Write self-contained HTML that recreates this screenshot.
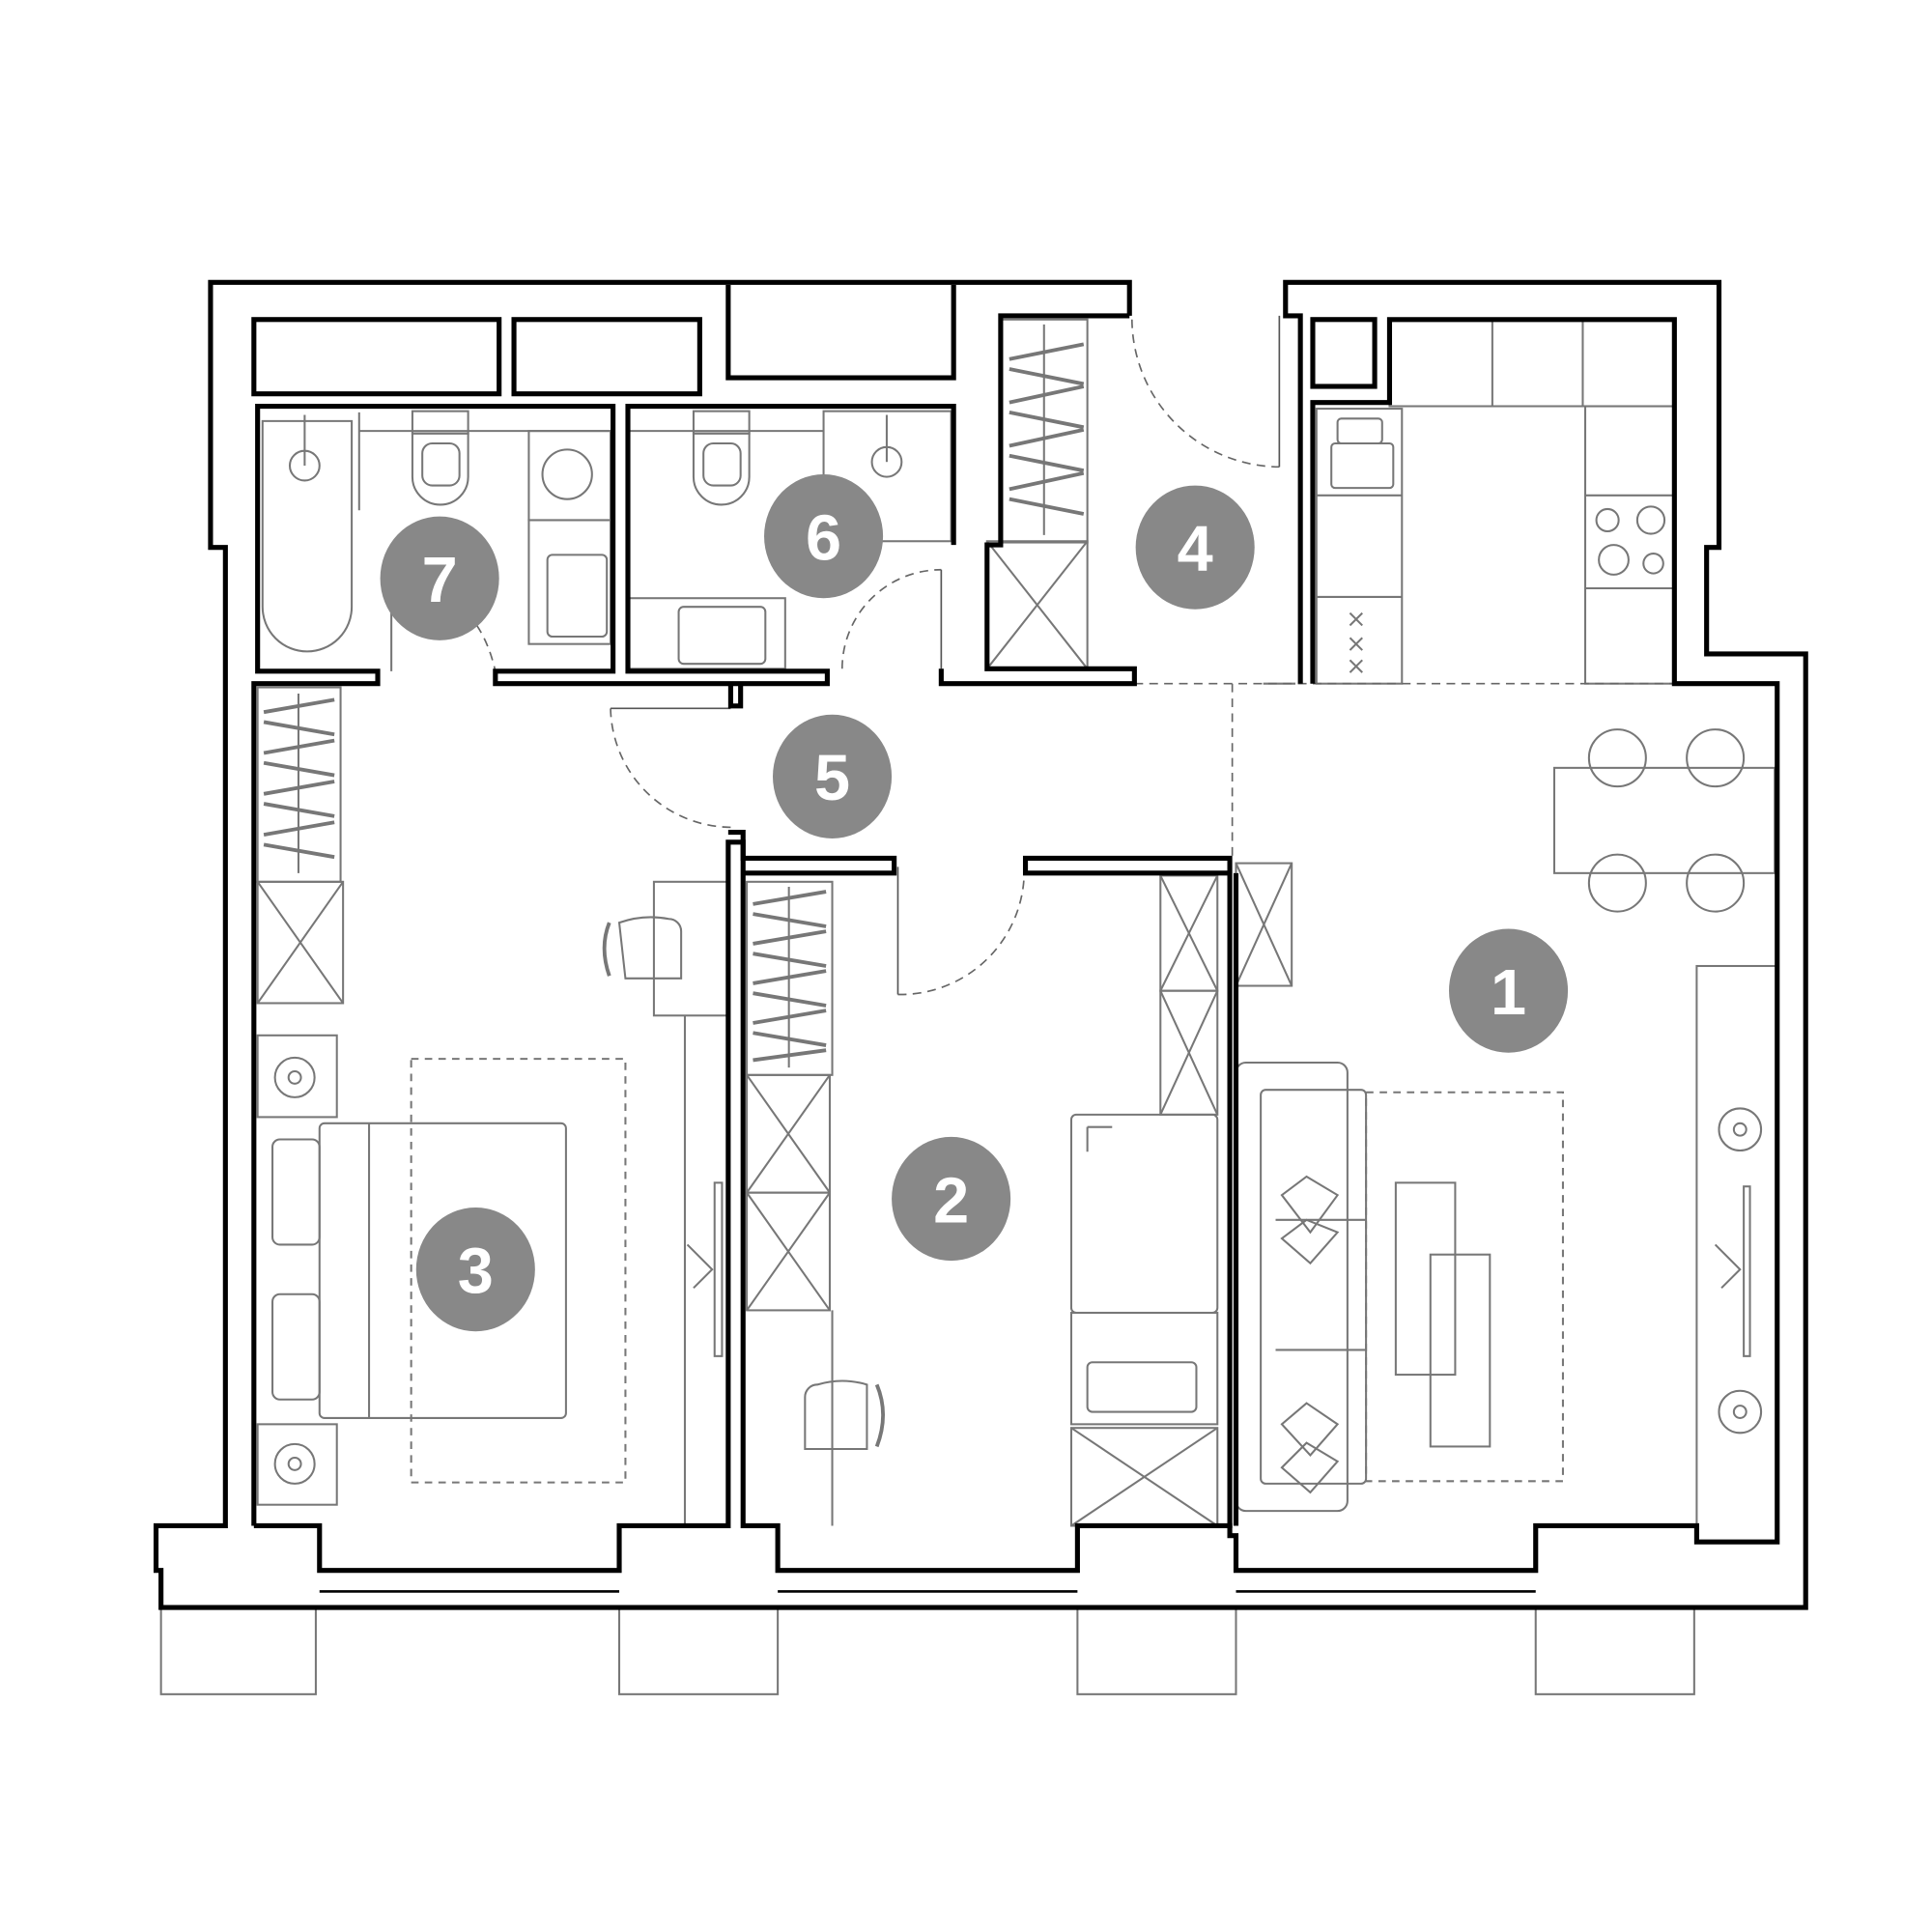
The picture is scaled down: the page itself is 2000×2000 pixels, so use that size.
<!DOCTYPE html>
<html><head><meta charset="utf-8"><style>html,body{margin:0;padding:0;background:#fff}svg{display:block}</style></head>
<body>
<svg width="2000" height="2000" viewBox="0 0 1560 1560" xmlns="http://www.w3.org/2000/svg">
<rect width="1560" height="1560" fill="#fff"/>
<!-- furniture (grey) -->
<g fill="none" stroke="#777" stroke-width="1.6">
 <!-- bath 7 -->
 <path d="M212,340 H284 V490 A36,36 0 0 1 212,490 Z"/>
 <circle cx="246" cy="376" r="12"/><line x1="246" y1="335" x2="246" y2="376"/>
 <line x1="290" y1="333" x2="290" y2="412"/>
 <line x1="290" y1="348" x2="493" y2="348"/>
 <rect x="333" y="332" width="45" height="18"/>
 <path d="M333,350 H378 V385 A22,22 0 0 1 333,385 Z"/><rect x="341" y="358" width="30" height="34" rx="8"/>
 <rect x="427" y="348" width="66" height="72"/><circle cx="458" cy="383" r="20"/>
 <rect x="427" y="420" width="66" height="100"/><rect x="442" y="448" width="48" height="66" rx="4"/>
 <line x1="316" y1="490" x2="316" y2="542"/>
 <!-- bath 6 -->
 <line x1="507" y1="348" x2="665" y2="348"/>
 <rect x="560" y="332" width="45" height="18"/>
 <path d="M560,350 H605 V385 A22,22 0 0 1 560,385 Z"/><rect x="568" y="358" width="30" height="34" rx="8"/>
 <rect x="665" y="332" width="103" height="105"/><circle cx="716" cy="373" r="12"/><line x1="716" y1="335" x2="716" y2="373"/>
 <rect x="508" y="483" width="126" height="57"/><rect x="548" y="490" width="70" height="46" rx="4"/>
 <!-- closet 4 -->
 <rect x="808" y="258" width="70" height="180"/><line x1="843" y1="262" x2="843" y2="432"/>
 <path d="M815,290 L875,278 M815,298 L875,310 M815,325 L875,312 M815,333 L875,345 M815,360 L875,347 M815,368 L875,380 M815,395 L875,382 M815,403 L875,415" stroke-width="3"/>
 <rect x="797" y="437" width="81" height="103"/><path d="M797,437 L878,540 M878,437 L797,540"/>
 <!-- wardrobe room 3 -->
 <rect x="208" y="555" width="67" height="157"/><line x1="241" y1="560" x2="241" y2="705"/>
 <path d="M213,575 L270,565 M213,583 L270,593 M213,608 L270,598 M213,616 L270,626 M213,641 L270,631 M213,649 L270,659 M213,674 L270,664 M213,682 L270,692" stroke-width="3"/>
 <rect x="208" y="712" width="69" height="98"/><path d="M208,712 L277,810 M277,712 L208,810"/>
 <rect x="208" y="836" width="64" height="66"/><circle cx="238" cy="870" r="16"/><circle cx="238" cy="870" r="5"/>
 <rect x="208" y="1150" width="64" height="65"/><circle cx="238" cy="1182" r="16"/><circle cx="238" cy="1182" r="5"/>
 <rect x="258" y="907" width="199" height="238" rx="4"/><line x1="298" y1="907" x2="298" y2="1145"/>
 <rect x="220" y="920" width="38" height="85" rx="6"/><rect x="220" y="1045" width="38" height="85" rx="6"/>
 <rect x="332" y="855" width="173" height="342" stroke-dasharray="6,5"/>
 <rect x="528" y="712" width="60" height="108"/>
 <path d="M500,745 Q520,738 540,742 A10,10 0 0 1 550,752 V790 H505 Z"/><path d="M492,745 Q484,765 492,788" stroke-width="3"/>
 <line x1="553" y1="820" x2="553" y2="1232"/><rect x="577" y="955" width="6" height="140"/><path d="M555,1005 L575,1025 L560,1040"/>
 <!-- room 2 -->
 <rect x="603" y="712" width="69" height="156"/><line x1="637" y1="716" x2="637" y2="862"/>
 <path d="M608,730 L667,720 M608,738 L667,748 M608,762 L667,752 M608,770 L667,780 M608,794 L667,784 M608,802 L667,812 M608,826 L667,816 M608,834 L667,844 M608,856 L667,848" stroke-width="3"/>
 <rect x="603" y="868" width="67" height="95"/><path d="M603,868 L670,963 M670,868 L603,963"/>
 <rect x="603" y="963" width="67" height="95"/><path d="M603,963 L670,1058 M670,963 L603,1058"/>
 <line x1="672" y1="1058" x2="672" y2="1232"/>
 <path d="M700,1118 Q680,1112 660,1118 A10,10 0 0 0 650,1128 V1170 H700 Z"/><path d="M708,1118 Q718,1142 708,1168" stroke-width="3"/>
 <rect x="865" y="900" width="118" height="160" rx="4"/><path d="M878,910 V930 M878,910 H898"/>
 <rect x="865" y="1060" width="118" height="90"/><rect x="878" y="1100" width="88" height="40" rx="4"/>
 <rect x="865" y="1153" width="118" height="79"/><path d="M865,1153 L983,1232 M983,1153 L865,1232"/>
 <rect x="937" y="707" width="46" height="93"/><path d="M937,707 L983,800 M983,707 L937,800"/>
 <rect x="937" y="800" width="46" height="100"/><path d="M937,800 L983,900 M983,800 L937,900"/>
 <!-- living -->
 <rect x="998" y="697" width="45" height="99"/><path d="M998,697 L1043,796 M1043,697 L998,796"/>
 <rect x="998" y="858" width="90" height="362" rx="8"/><rect x="1018" y="880" width="85" height="318" rx="4"/>
 <line x1="1030" y1="985" x2="1103" y2="985"/><line x1="1030" y1="1090" x2="1103" y2="1090"/>
 <path d="M1055,950 L1080,965 L1058,995 L1035,965 Z M1055,985 L1080,995 L1058,1020 L1035,1000 Z M1055,1133 L1080,1150 L1058,1175 L1035,1150 Z M1055,1165 L1080,1180 L1058,1205 L1035,1185 Z"/>
 <rect x="1103" y="882" width="159" height="314" stroke-dasharray="6,5"/>
 <rect x="1127" y="955" width="48" height="155"/><rect x="1155" y="1013" width="48" height="155"/>
 <rect x="1255" y="620" width="178" height="85"/>
 <circle cx="1306" cy="612" r="23"/><circle cx="1385" cy="612" r="23"/><circle cx="1306" cy="713" r="23"/><circle cx="1385" cy="713" r="23"/>
 <rect x="1370" y="780" width="65" height="465"/>
 <circle cx="1405" cy="912" r="17"/><circle cx="1405" cy="912" r="5"/><circle cx="1405" cy="1140" r="17"/><circle cx="1405" cy="1140" r="5"/>
 <rect x="1408" y="958" width="5" height="137"/><path d="M1385,1005 L1405,1025 L1390,1040"/>
 <!-- kitchen -->
 <rect x="1122" y="258" width="230" height="70"/><line x1="1205" y1="258" x2="1205" y2="328"/><line x1="1278" y1="258" x2="1278" y2="328"/>
 <rect x="1280" y="328" width="72" height="224"/><line x1="1280" y1="400" x2="1352" y2="400"/><line x1="1280" y1="475" x2="1352" y2="475"/>
 <circle cx="1298" cy="420" r="9"/><circle cx="1333" cy="420" r="11"/><circle cx="1303" cy="452" r="12"/><circle cx="1335" cy="455" r="8"/>
 <rect x="1063" y="330" width="69" height="222"/><line x1="1063" y1="400" x2="1132" y2="400"/><line x1="1063" y1="482" x2="1132" y2="482"/>
 <rect x="1080" y="338" width="36" height="20" rx="3"/><rect x="1075" y="358" width="50" height="36" rx="3"/>
 <path d="M1090,495 l10,10 m0,-10 l-10,10 M1090,515 l10,10 m0,-10 l-10,10 M1090,533 l10,10 m0,-10 l-10,10"/>
 <!-- sills -->
 <rect x="130" y="1298" width="125" height="70"/><rect x="500" y="1298" width="128" height="70"/><rect x="870" y="1298" width="128" height="70"/><rect x="1240" y="1298" width="128" height="70"/>
 <line x1="1020" y1="552" x2="1046" y2="552"/>
</g>
<!-- dashed -->
<g fill="none" stroke="#666" stroke-width="1.3" stroke-dasharray="7,5">
 <line x1="916" y1="552" x2="1352" y2="552"/><line x1="995" y1="552" x2="995" y2="693"/>
 <path d="M914,258 A120,120 0 0 0 1033,377"/>
 <path d="M316,490 M385,505 Q395,520 400,542"/>
 <path d="M680,540 A80,80 0 0 1 760,460"/>
 <path d="M493,572 A98,98 0 0 0 590,668"/>
 <path d="M725,803 A100,100 0 0 0 827,705"/>
</g>
<g stroke="#555" stroke-width="1.3"><line x1="1033" y1="255" x2="1033" y2="377"/><line x1="760" y1="460" x2="760" y2="540"/><line x1="590" y1="572" x2="493" y2="572"/><line x1="725" y1="700" x2="725" y2="803"/></g>
<!-- walls -->
<g fill="none" stroke="#000" stroke-width="4" stroke-linejoin="miter">
 <path d="M912,255 V228 H170 V442 H182 V1232 H126 V1268 H130 V1298 H1458 V528 H1378 V442 H1388 V228 H1038 V255 H1050 V552"/>
 <path d="M912,255 H808 V440 H797 V540 H916 V552 H760 V540"/>
 <path d="M205,1232 V552 H305 V542 H208 V328 H495 V542 H400 V552 H668 V542 H507 V328 H770 V440"/>
 <path d="M590,552 V570 H598 V552"/>
 <rect x="205" y="258" width="198" height="60"/><rect x="415" y="258" width="150" height="60"/>
 <path d="M588,230 V305 H770 V230"/>
 <path d="M1060,552 V325 H1122 V258 H1352 V552 H1435 V1245 H1370 V1232 H1240 V1268 H998 V1240 H993 V693 H828 V705 H993"/>
 <rect x="1060" y="258" width="50" height="54"/>
 <path d="M205,1232 H258 V1268 H500 V1232 H588 V680 H600 V1232 H628 V1268 H870 V1232 H995"/>
 <path d="M588,672 H600 V693 H722 V705 H600"/>
 <path d="M998,705 V1232"/>
</g>
<g stroke="#000" stroke-width="2"><line x1="258" y1="1285" x2="500" y2="1285"/><line x1="628" y1="1285" x2="870" y2="1285"/><line x1="998" y1="1285" x2="1240" y2="1285"/></g>
<!-- labels -->
<g fill="#888">
 <ellipse cx="355" cy="467" rx="48" ry="50"/><ellipse cx="665" cy="433" rx="48" ry="50"/><ellipse cx="965" cy="442" rx="48" ry="50"/>
 <ellipse cx="672" cy="627" rx="48" ry="50"/><ellipse cx="1218" cy="800" rx="48" ry="50"/><ellipse cx="768" cy="968" rx="48" ry="50"/><ellipse cx="384" cy="1025" rx="48" ry="50"/>
</g>
<g fill="#fff" font-family="'Liberation Sans Narrow','Liberation Sans',sans-serif" font-weight="bold" font-size="52" text-anchor="middle">
 <text x="355" y="486">7</text><text x="665" y="452">6</text><text x="965" y="461">4</text><text x="672" y="646">5</text>
 <text x="1218" y="819">1</text><text x="768" y="987">2</text><text x="384" y="1044">3</text>
</g>
</svg>
</body></html>
